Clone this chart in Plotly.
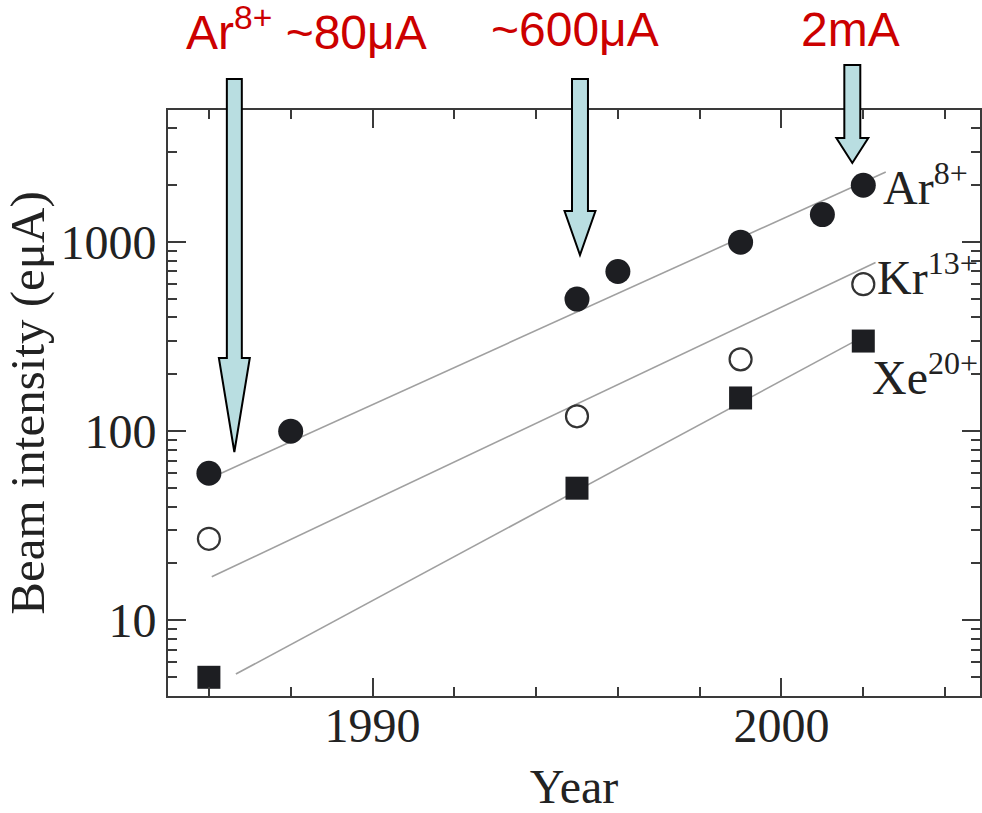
import plotly.graph_objects as go

# ---- data ----
ar_years = [1986, 1988, 1995, 1996, 1999, 2001, 2002]
ar_vals = [60, 100, 500, 700, 1000, 1400, 2000]
kr_years = [1986, 1995, 1999, 2002]
kr_vals = [27, 120, 240, 600]
xe_years = [1986, 1995, 1999, 2002]
xe_vals = [5, 50, 150, 300]

ar_fit_x = [1986.3, 2002.55]
ar_fit_y = [60, 2350]
kr_fit_x = [1986.07, 2002.3]
kr_fit_y = [17, 780]
xe_fit_x = [1986.66, 2001.75]
xe_fit_y = [5.2, 296]

y_tick_vals = [10, 100, 1000]
y_tick_text = ["10", "100", "1000"]
y_minor_vals = [4, 5, 6, 7, 8, 9, 20, 30, 40, 50, 60, 70, 80, 90,
                200, 300, 400, 500, 600, 700, 800, 900, 2000, 3000, 4000, 5000]
x_tick_vals = [1990, 2000]

W, H = 982, 813
ML, MR, MT, MB = 168, 0, 110, 117
PW, PH = W - ML - MR, H - MT - MB

SERIF = "Liberation Serif, Times New Roman, serif"
SANS = "Liberation Sans, Arial, sans-serif"
DARK = "#1d1e22"
AXC = "#3a3a3a"
RED = "#cc0000"
ARROW_FILL = "#b9dee1"


def px(x):
    return (x - ML) / PW


def py(y):
    return (H - MB - y) / PH


fig = go.Figure()

fit_style = dict(color="#a0a0a0", width=1.6)
for fx, fy in [(ar_fit_x, ar_fit_y), (kr_fit_x, kr_fit_y), (xe_fit_x, xe_fit_y)]:
    fig.add_trace(go.Scatter(x=fx, y=fy, mode="lines", line=fit_style,
                             showlegend=False, hoverinfo="skip"))

fig.add_trace(go.Scatter(x=ar_years, y=ar_vals, mode="markers", name="Ar8+",
                         marker=dict(symbol="circle", size=25, color=DARK,
                                     line=dict(width=0))))
fig.add_trace(go.Scatter(x=kr_years, y=kr_vals, mode="markers", name="Kr13+",
                         marker=dict(symbol="circle", size=22, color="white",
                                     line=dict(width=2.2, color="#333333"))))
fig.add_trace(go.Scatter(x=xe_years, y=xe_vals, mode="markers", name="Xe20+",
                         marker=dict(symbol="square", size=23, color=DARK,
                                     line=dict(width=0))))

fig.update_xaxes(
    range=[1985, 1985 + PW / 41.0],
    tickvals=x_tick_vals, ticks="inside", ticklen=18, tickwidth=2, tickcolor=AXC,
    minor=dict(ticks="inside", ticklen=9, tickwidth=2, tickcolor=AXC, dtick=2,
               tick0=1984, showgrid=False),
    showline=True, linecolor=AXC, linewidth=2, mirror="ticks",
    showgrid=False, zeroline=False, ticklabelstandoff=-14,
    tickfont=dict(family=SERIF, size=48, color="#222222"),
    title=dict(text="Year", font=dict(family=SERIF, size=48, color="#222222"),
               standoff=22),
)
fig.update_yaxes(
    type="log", range=[0.6, 3.699],
    tickvals=y_tick_vals, ticktext=y_tick_text,
    ticks="inside", ticklen=18, tickwidth=2, tickcolor=AXC,
    minor=dict(ticks="inside", ticklen=9, tickwidth=2, tickcolor=AXC,
               tickmode="array", tickvals=y_minor_vals, showgrid=False),
    showline=True, linecolor=AXC, linewidth=2, mirror="ticks",
    showgrid=False, zeroline=False,
    tickfont=dict(family=SERIF, size=48, color="#222222"),
    title=dict(text="Beam intensity (eμA)",
               font=dict(family=SERIF, size=49, color="#222222"), standoff=3),
)

annotations = []
# series labels (main text + superscript in one label)
SUP = "<sup><span style='font-size:32px'>{}</span></sup>"
series_labels = [("Ar", "8+", 883, 205),
                 ("Kr", "13+", 877, 295),
                 ("Xe", "20+", 872, 395)]
for main, sup, x0, base0 in series_labels:
    annotations.append(dict(text=main + SUP.format(sup), x=px(x0), y=py(base0 + 11),
                            xref="paper", yref="paper",
                            xanchor="left", yanchor="bottom", showarrow=False,
                            font=dict(family=SERIF, size=48, color="#222222")))

# red labels
red_labels = [("Ar<sup>8+</sup> ~80μA", 307), ("~600μA", 576), ("2mA", 852)]
for txt, cx in red_labels:
    annotations.append(dict(text=txt, x=px(cx), y=py(29), xref="paper", yref="paper",
                            xanchor="center", yanchor="middle", showarrow=False,
                            font=dict(family=SANS, size=48, color=RED)))

fig.update_layout(annotations=annotations)

# block arrows
arrows = [(234.5, 79, 358, 452, 7.5, 15.5),
          (581, 79, 211, 255, 8, 15.5),
          (854, 65, 138, 163, 8, 16)]
shapes = []
for cx, top, head, tip, sw, hw in arrows:
    pts = [(cx - sw, top), (cx + sw, top), (cx + sw, head), (cx + hw, head),
           (cx, tip), (cx - hw, head), (cx - sw, head)]
    path = "M " + " L ".join(f"{px(a):.5f},{py(b):.5f}" for a, b in pts) + " Z"
    shapes.append(dict(type="path", path=path, xref="paper", yref="paper",
                       fillcolor=ARROW_FILL, line=dict(color="black", width=2),
                       layer="above"))
fig.update_layout(shapes=shapes)

fig.update_layout(
    width=W, height=H,
    margin=dict(l=ML, r=MR, t=MT, b=MB, pad=0),
    paper_bgcolor="white", plot_bgcolor="white",
    showlegend=False,
)

fig.write_html("out.html")
